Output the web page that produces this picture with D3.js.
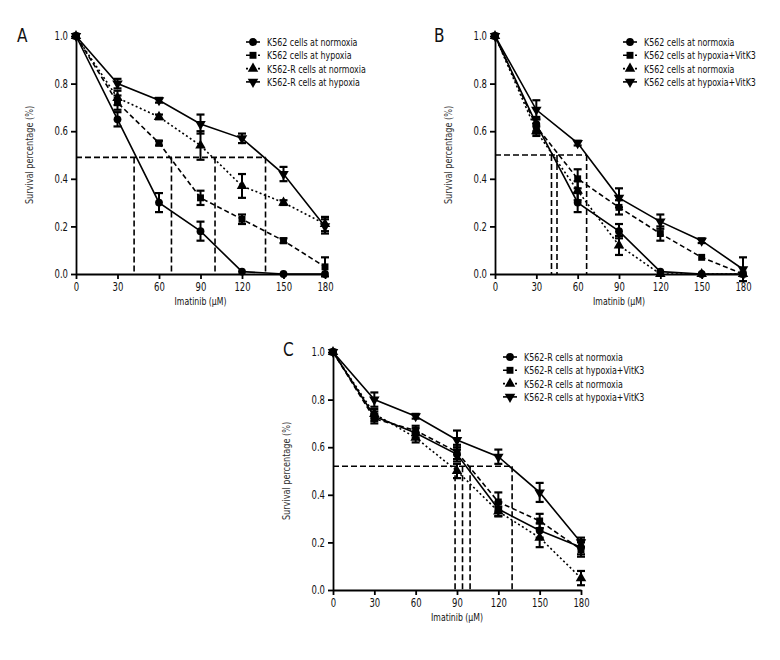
<!DOCTYPE html>
<meta charset="utf-8">
<head>
<style>
  body { margin: 0; background: #fff; }
  svg text { font-family: "DejaVu Sans Condensed", "DejaVu Sans", "Liberation Sans", sans-serif; fill: #111; }
  .axis path, .axis line { stroke: #000; stroke-width: 1.8; fill: none; }
</style>
</head>
<body>
<script src="https://cdnjs.cloudflare.com/ajax/libs/d3/7.8.5/d3.min.js"></script>
<script>

// doses and ticks
const doses = [0, 30, 60, 90, 120, 150, 180];
const yTicks = [0, 0.2, 0.4, 0.6, 0.8, 1.0];

// panel A
const aNames = ["K562 cells at normoxia", "K562 cells at hypoxia", "K562-R cells at normoxia", "K562-R cells at hypoxia"];
const aNormoxia = [1.0, 0.65, 0.30, 0.18, 0.01, 0.00, 0.00];
const aNormoxiaErr = [0, 0.03, 0.04, 0.04, 0, 0, 0];
const aHypoxia = [1.0, 0.72, 0.55, 0.32, 0.23, 0.14, 0.03];
const aHypoxiaErr = [0, 0.03, 0.01, 0.03, 0.02, 0.01, 0.04];
const aRNormoxia = [1.0, 0.74, 0.66, 0.54, 0.37, 0.30, 0.21];
const aRNormoxiaErr = [0, 0.03, 0.01, 0.06, 0.05, 0.01, 0.03];
const aRHypoxia = [1.0, 0.80, 0.73, 0.63, 0.57, 0.42, 0.20];
const aRHypoxiaErr = [0, 0.02, 0.01, 0.04, 0.02, 0.03, 0.03];
const aCut = 0.49;
const aIC50 = [42, 69, 100.5, 137];

// panel B
const bNames = ["K562 cells at normoxia", "K562 cells at hypoxia+VitK3", "K562 cells at normoxia", "K562 cells at hypoxia+VitK3"];
const bNormoxia = [1.0, 0.63, 0.30, 0.18, 0.01, 0.00, 0.00];
const bNormoxiaErr = [0, 0.03, 0.04, 0.03, 0, 0, 0];
const bHypoxiaVitK3 = [1.0, 0.62, 0.40, 0.28, 0.17, 0.07, 0.00];
const bHypoxiaVitK3Err = [0, 0.03, 0.04, 0.03, 0.03, 0, 0];
const bNormoxia2 = [1.0, 0.60, 0.35, 0.12, 0.00, 0.00, 0.00];
const bNormoxia2Err = [0, 0.02, 0.04, 0.04, 0, 0, 0];
const bHypoxiaVitK3b = [1.0, 0.69, 0.55, 0.32, 0.22, 0.14, 0.02];
const bHypoxiaVitK3bErr = [0, 0.04, 0.01, 0.04, 0.03, 0.01, 0.05];
const bCut = 0.50;
const bIC50 = [41, 45, 66.5];

// panel C
const cNames = ["K562-R cells at normoxia", "K562-R cells at hypoxia+VitK3", "K562-R cells at normoxia", "K562-R cells at hypoxia+VitK3"];
const cRNormoxia = [1.0, 0.73, 0.66, 0.57, 0.34, 0.25, 0.18];
const cRNormoxiaErr = [0, 0.02, 0.02, 0.03, 0.03, 0.03, 0.03];
const cRHypoxiaVitK3 = [1.0, 0.72, 0.67, 0.58, 0.37, 0.29, 0.17];
const cRHypoxiaVitK3Err = [0, 0.02, 0.02, 0.03, 0.04, 0.03, 0.03];
const cRNormoxia2 = [1.0, 0.74, 0.64, 0.50, 0.33, 0.22, 0.05];
const cRNormoxia2Err = [0, 0.02, 0.02, 0.03, 0.02, 0.04, 0.03];
const cRHypoxiaVitK3b = [1.0, 0.80, 0.73, 0.63, 0.56, 0.41, 0.20];
const cRHypoxiaVitK3bErr = [0, 0.03, 0.01, 0.04, 0.03, 0.04, 0.02];
const cCut = 0.52;
const cIC50 = [88.6, 94, 99.5, 130];

const dashes = [null, "5,3", "2,2.5", null];
const symbols = [d3.symbolCircle, d3.symbolSquare, d3.symbolTriangle, "tri-down"];

const svg = d3.select("body").append("svg")
  .attr("width", 780)
  .attr("height", 660);

// the original uses a condensed face; squeeze the text horizontally
function squeeze(sel, f) {
  sel.each(function() {
    const w = this.getComputedTextLength();
    d3.select(this).attr("textLength", w * f).attr("lengthAdjust", "spacingAndGlyphs");
  });
}

function marker(g, k, x, y) {
  const tri = symbols[k] === "tri-down";
  g.append("path")
    .attr("d", d3.symbol(tri ? d3.symbolTriangle : symbols[k], 48)())
    .attr("transform", "translate(" + x + "," + y + ")" + (tri ? " rotate(180)" : ""))
    .attr("fill", "#000");
}

function drawPanel(p) {
  const x = d3.scaleLinear().domain([0, 180]).range([p.x0, p.x1]);
  const y = d3.scaleLinear().domain([0, 1]).range([p.yBot, p.yTop]);
  const g = svg.append("g");

  g.append("text")
    .attr("x", p.lx).attr("y", p.ly)
    .style("font-size", "20px")
    .text(p.label)
    .call(squeeze, 0.85);

  // IC50 guide lines
  g.append("line")
    .attr("x1", x(0)).attr("x2", x(d3.max(p.ic50)))
    .attr("y1", y(p.cut)).attr("y2", y(p.cut))
    .attr("stroke", "#000").attr("stroke-width", 1.6).attr("stroke-dasharray", "6,3");
  g.selectAll(".ic").data(p.ic50).join("line")
    .attr("x1", d => x(d)).attr("x2", d => x(d))
    .attr("y1", y(p.cut)).attr("y2", y(0))
    .attr("stroke", "#000").attr("stroke-width", 1.6).attr("stroke-dasharray", "6,3");

  // series
  p.series.forEach((s, k) => {
    const pts = doses.map((d, i) => ({d: d, v: s.values[i], e: s.errs[i]}));
    g.append("path")
      .datum(pts)
      .attr("fill", "none")
      .attr("stroke", "#000")
      .attr("stroke-width", 1.6)
      .attr("stroke-dasharray", dashes[k])
      .attr("d", d3.line().x(d => x(d.d)).y(d => y(d.v)));
    pts.forEach(pt => {
      if (pt.e > 0) {
        const cx = x(pt.d);
        g.append("line").attr("x1", cx).attr("x2", cx)
          .attr("y1", y(pt.v - pt.e)).attr("y2", y(pt.v + pt.e))
          .attr("stroke", "#000").attr("stroke-width", 2);
        [pt.v - pt.e, pt.v + pt.e].forEach(v => {
          g.append("line").attr("x1", cx - 4).attr("x2", cx + 4)
            .attr("y1", y(v)).attr("y2", y(v))
            .attr("stroke", "#000").attr("stroke-width", 2.2);
        });
      }
      marker(g, k, x(pt.d), y(pt.v));
    });
  });

  // axes
  g.append("g")
    .attr("class", "axis")
    .attr("transform", "translate(0," + p.yBot + ")")
    .call(d3.axisBottom(x).tickValues(doses).tickSize(5).tickSizeOuter(0).tickFormat(d3.format("d")))
    .selectAll("text").style("font-size", "11.5px").attr("dy", "0.75em").call(squeeze, 0.82);
  g.append("g")
    .attr("class", "axis")
    .attr("transform", "translate(" + p.x0 + ",0)")
    .call(d3.axisLeft(y).tickValues(yTicks).tickSize(5).tickSizeOuter(0).tickFormat(d3.format(".1f")))
    .selectAll("text").style("font-size", "11.5px").call(squeeze, 0.82);

  g.append("text")
    .attr("x", (p.x0 + p.x1) / 2).attr("y", p.yBot + 31)
    .attr("text-anchor", "middle")
    .style("font-size", "10.5px")
    .text("Imatinib (\u03bcM)")
    .call(squeeze, 0.82);
  g.append("text")
    .attr("transform", "translate(" + (p.x0 - 43) + "," + ((p.yTop + p.yBot) / 2) + ") rotate(-90)")
    .attr("text-anchor", "middle")
    .style("font-size", "11px")
    .style("fill", "#333")
    .text("Survival percentage (%)")
    .call(squeeze, 0.82);

  // legend
  p.series.forEach((s, k) => {
    const ly = p.legY + k * 13.3;
    const lg = g.append("g");
    lg.append("line")
      .attr("x1", p.legX).attr("x2", p.legX + 14)
      .attr("y1", ly).attr("y2", ly)
      .attr("stroke", "#000").attr("stroke-width", 1.6)
      .attr("stroke-dasharray", dashes[k] ? (k === 1 ? "4,2" : "2,2") : null);
    marker(lg, k, p.legX + 7, ly);
    lg.append("g")
      .attr("transform", "translate(" + (p.legX + 21) + "," + (ly + 4) + ") scale(0.8,1)")
      .append("text")
      .style("font-size", "11px")
      .text(s.name);
  });
}

drawPanel({
  label: "A", lx: 17, ly: 42,
  x0: 76, x1: 325, yTop: 36, yBot: 274,
  cut: aCut, ic50: aIC50, legX: 246, legY: 42,
  series: [
    {name: aNames[0], values: aNormoxia, errs: aNormoxiaErr},
    {name: aNames[1], values: aHypoxia, errs: aHypoxiaErr},
    {name: aNames[2], values: aRNormoxia, errs: aRNormoxiaErr},
    {name: aNames[3], values: aRHypoxia, errs: aRHypoxiaErr}
  ]
});

drawPanel({
  label: "B", lx: 434, ly: 42,
  x0: 495, x1: 743, yTop: 36, yBot: 274,
  cut: bCut, ic50: bIC50, legX: 623, legY: 42,
  series: [
    {name: bNames[0], values: bNormoxia, errs: bNormoxiaErr},
    {name: bNames[1], values: bHypoxiaVitK3, errs: bHypoxiaVitK3Err},
    {name: bNames[2], values: bNormoxia2, errs: bNormoxia2Err},
    {name: bNames[3], values: bHypoxiaVitK3b, errs: bHypoxiaVitK3bErr}
  ]
});

drawPanel({
  label: "C", lx: 283, ly: 356,
  x0: 333, x1: 581, yTop: 352, yBot: 590,
  cut: cCut, ic50: cIC50, legX: 503, legY: 357,
  series: [
    {name: cNames[0], values: cRNormoxia, errs: cRNormoxiaErr},
    {name: cNames[1], values: cRHypoxiaVitK3, errs: cRHypoxiaVitK3Err},
    {name: cNames[2], values: cRNormoxia2, errs: cRNormoxia2Err},
    {name: cNames[3], values: cRHypoxiaVitK3b, errs: cRHypoxiaVitK3bErr}
  ]
});

</script>
</body>
